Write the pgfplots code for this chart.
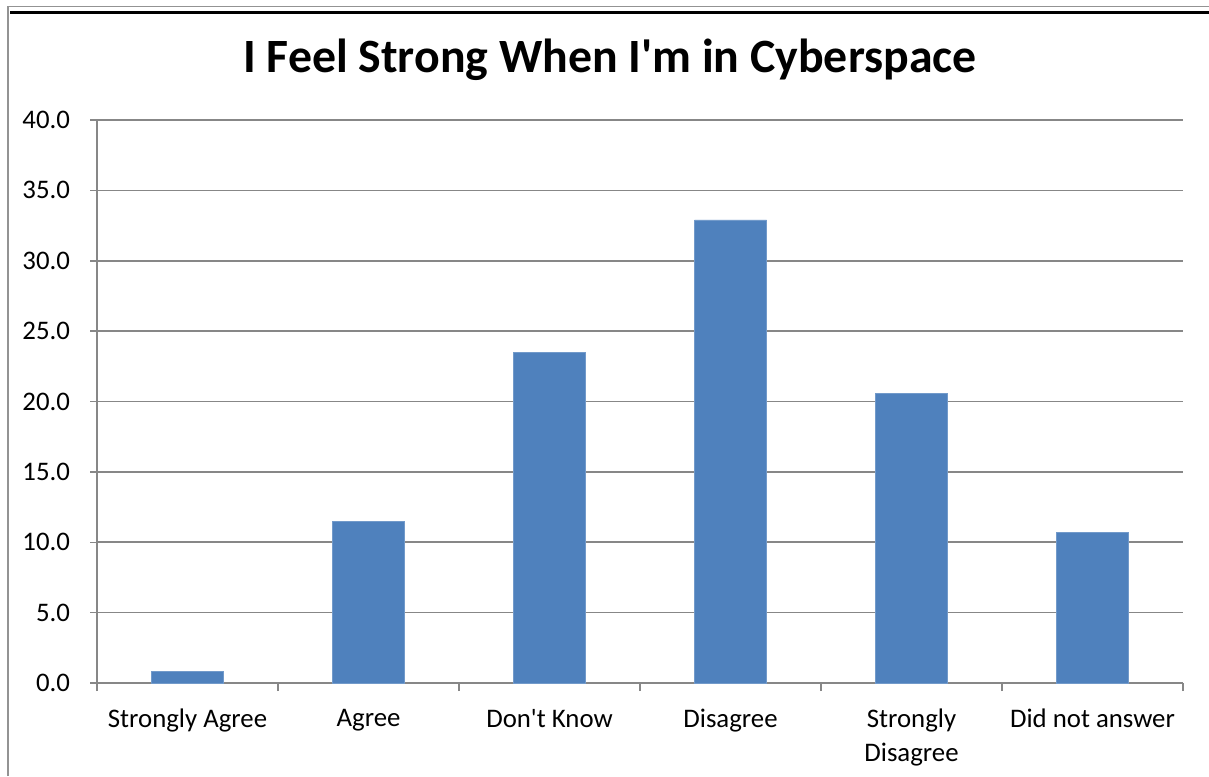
\documentclass[border=0pt]{standalone}
\usepackage{fontspec}
\setmainfont{Carlito}
\usepackage{pgfplots}
\pgfplotsset{compat=1.18}

\definecolor{barblue}{HTML}{4F81BD}
\definecolor{gridgray}{HTML}{878787}

\begin{document}
\begin{tikzpicture}
  % fixed page size: 604.5pt x 388pt
  \useasboundingbox (0,0) rectangle (604.5pt,388pt);

  % outer frame lines
  \draw[color=gray!85, line width=0.7pt] (4pt,0pt) -- (4pt,384.6pt) -- (604.5pt,384.6pt);
  \draw[color=black, line width=1.1pt] (5pt,381.7pt) -- (604.5pt,381.7pt);

  % chart title
  \node[anchor=base, font=\fontsize{23.9}{28}\selectfont\bfseries, inner sep=0pt]
    at (305pt,351.5pt) {I Feel Strong When I\textquotesingle m in Cyberspace};

  \begin{axis}[
    at={(48.5pt,46.5pt)}, anchor=south west,
    scale only axis,
    width=543pt, height=281.5pt,
    xmin=-0.5, xmax=5.5,
    ymin=0, ymax=40,
    ytick={0,5,...,40},
    yticklabel={\pgfmathprintnumber[fixed,fixed zerofill,precision=1]{\tick}},
    /pgf/number format/assume math mode=true,
    xtick={0,...,5},
    xticklabels={Strongly Agree, Agree, Don\textquotesingle t Know, Disagree, {Strongly\\Disagree}, Did not answer},
    minor xtick={-0.5,0.5,...,5.5},
    major x tick style={draw=none},
    tick align=outside,
    major tick length=3.5pt,
    minor tick length=4pt,
    tick style={color=gridgray, line width=0.75pt},
    axis x line*=bottom,
    axis y line*=left,
    axis line style={color=gridgray, line width=0.75pt},
    ymajorgrids,
    grid style={color=gridgray, line width=0.8pt},
    tick label style={font=\fontsize{13.4}{17}\selectfont, text=black},
    xticklabel style={align=center, anchor=north, yshift=-6pt},
    yticklabel style={anchor=east, xshift=-6.5pt},
    ybar,
    bar width=36pt,
    clip=false,
  ]
    \addplot[fill=barblue, draw=barblue!80!white, line width=0.4pt]
      coordinates {(0,0.8) (1,11.5) (2,23.5) (3,32.9) (4,20.6) (5,10.7)};
  \end{axis}
\end{tikzpicture}
\end{document}
